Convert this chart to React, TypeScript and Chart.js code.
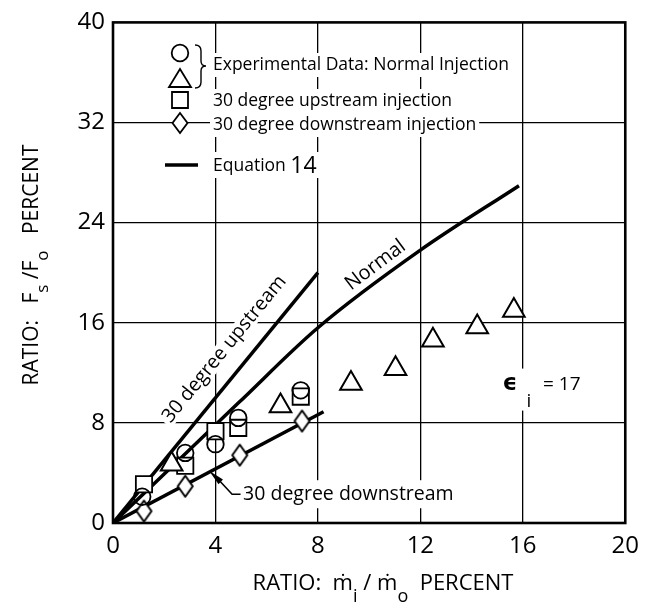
import React, { useEffect, useRef } from "react";
import { Chart, registerables } from "chart.js";

Chart.register(...registerables);

const FONT = '"Open Sans", "DejaVu Sans", sans-serif';

// Axis ticks
const xTicks = [0, 4, 8, 12, 16, 20];
const yTicks = [0, 8, 16, 24, 32, 40];

// Experimental data: normal injection (circles)
const circleX = [1.14, 2.82, 4.0, 4.89, 7.33];
const circleY = [2.1, 5.6, 6.3, 8.4, 10.6];
// Experimental data: normal injection (triangles)
const triangleX = [2.29, 6.54, 9.29, 11.03, 12.49, 14.22, 15.65];
const triangleY = [4.7, 9.34, 11.14, 12.33, 14.6, 15.66, 16.97];
// 30 degree upstream injection (squares)
const squareX = [1.21, 2.82, 4.0, 4.89, 7.33];
const squareY = [3.1, 4.57, 7.33, 7.6, 10.1];
// 30 degree downstream injection (diamonds)
const diamondX = [1.21, 2.82, 4.95, 7.38];
const diamondY = [0.95, 2.94, 5.42, 8.15];

// Equation 14 curves
const upstreamLineX = [0, 8.0];
const upstreamLineY = [0, 20.0];
const normalLineX = [0, 4.9, 8.0, 12.0, 15.85];
const normalLineY = [0, 9.6, 15.6, 21.8, 26.95];
const downstreamLineX = [0, 8.22];
const downstreamLineY = [0, 8.89];

function pts(xs: number[], ys: number[]) {
  return xs.map((x, i) => ({ x, y: ys[i] }));
}

function makeDiamond(w: number, h: number, lw: number): HTMLCanvasElement {
  const c = document.createElement("canvas");
  c.width = Math.ceil(w + lw * 2);
  c.height = Math.ceil(h + lw * 2);
  const g = c.getContext("2d")!;
  const cx = c.width / 2;
  const cy = c.height / 2;
  g.beginPath();
  g.moveTo(cx, cy - h / 2);
  g.lineTo(cx + w / 2, cy);
  g.lineTo(cx, cy + h / 2);
  g.lineTo(cx - w / 2, cy);
  g.closePath();
  g.fillStyle = "#fff";
  g.fill();
  g.lineWidth = lw;
  g.strokeStyle = "#000";
  g.lineJoin = "round";
  g.stroke();
  return c;
}

type Seg = { t: string; sub?: boolean; size?: number };

function drawSegs(
  ctx: CanvasRenderingContext2D,
  segs: Seg[],
  x: number,
  y: number,
  base: number,
  subSize: number,
  subDy: number,
  align: "left" | "center"
) {
  const widths = segs.map((s) => {
    ctx.font = `${s.sub ? subSize : s.size || base}px ${FONT}`;
    return ctx.measureText(s.t).width;
  });
  const total = widths.reduce((a, b) => a + b, 0);
  let cx = align === "center" ? x - total / 2 : x;
  ctx.textAlign = "left";
  ctx.textBaseline = "alphabetic";
  segs.forEach((s, i) => {
    ctx.font = `${s.sub ? subSize : s.size || base}px ${FONT}`;
    ctx.fillText(s.t, cx, y + (s.sub ? subDy : 0));
    cx += widths[i];
  });
  return total;
}

function boxText(
  ctx: CanvasRenderingContext2D,
  text: string,
  x: number,
  y: number,
  size: number,
  align: "left" | "center",
  boxH: number
) {
  ctx.font = `${size}px ${FONT}`;
  const w = ctx.measureText(text).width;
  const left = align === "center" ? x - w / 2 : x;
  ctx.fillStyle = "#fff";
  ctx.fillRect(left - 3, y - boxH / 2, w + 6, boxH);
  ctx.fillStyle = "#000";
  ctx.textAlign = "left";
  ctx.textBaseline = "middle";
  ctx.fillText(text, left, y);
  return w;
}

export default function App() {
  const ref = useRef<HTMLCanvasElement>(null);

  useEffect(() => {
    const canvas = ref.current!;
    const diamond = makeDiamond(15, 21, 2);

    const decor = {
      id: "decor",
      beforeDatasetsDraw(chart: any) {
        const { ctx, scales } = chart;
        const x = scales.x;
        const y = scales.y;
        const px = (v: number) => x.getPixelForValue(v);
        const py = (v: number) => y.getPixelForValue(v);
        ctx.save();

        // "30 degree upstream" label along the upstream curve
        const a1 = Math.atan2(
          py(upstreamLineY[1]) - py(upstreamLineY[0]),
          px(upstreamLineX[1]) - px(upstreamLineX[0])
        );
        ctx.save();
        ctx.translate(px(4.35), py(13.9));
        ctx.rotate(a1);
        boxText(ctx, "30 degree upstream", 0, 0, 19.5, "center", 18);
        ctx.restore();

        // "Normal" label along the normal curve
        const a2 = Math.atan2(py(21.8) - py(15.6), px(12.0) - px(8.0));
        ctx.save();
        ctx.translate(px(10.25), py(20.6));
        ctx.rotate(a2);
        boxText(ctx, "Normal", 0, 0, 20, "center", 18);
        ctx.restore();

        // "30 degree downstream" with leader arrow
        boxText(ctx, "30 degree downstream", px(5.08), py(2.3), 19.5, "left", 28);
        const tipX = px(3.75), tipY = py(4.18);
        const baseX = px(4.15), baseY = py(3.4);
        const elbX = px(4.65), elbY = py(2.3);
        const endX = px(4.98), endY = py(2.3);
        ctx.strokeStyle = "#000";
        ctx.lineWidth = 1.6;
        ctx.beginPath();
        ctx.moveTo(baseX, baseY);
        ctx.lineTo(elbX, elbY);
        ctx.lineTo(endX, endY);
        ctx.stroke();
        const ang = Math.atan2(tipY - baseY, tipX - baseX);
        const len = Math.hypot(tipX - baseX, tipY - baseY);
        ctx.save();
        ctx.translate(tipX, tipY);
        ctx.rotate(ang);
        ctx.beginPath();
        ctx.moveTo(0, 0);
        ctx.lineTo(-len - 2, -3.2);
        ctx.lineTo(-len - 2, 3.2);
        ctx.closePath();
        ctx.fillStyle = "#000";
        ctx.fill();
        ctx.restore();

        // epsilon_i = 17
        const ex = px(15.5), ey = py(11.14);
        ctx.fillStyle = "#fff";
        ctx.fillRect(ex - 11, ey - 15, 96, 42);
        ctx.fillStyle = "#000";
        ctx.textAlign = "center";
        ctx.textBaseline = "middle";
        ctx.font = `bold 23px ${FONT}`;
        ctx.fillText("\u03F5", ex, ey);
        ctx.font = `19px ${FONT}`;
        ctx.fillText("i", ex + 19, ey + 18);
        ctx.textAlign = "left";
        ctx.fillText("= 17", ex + 33, ey + 1);

        ctx.restore();
      },
      afterDraw(chart: any) {
        const { ctx, chartArea } = chart;
        const { left, right, top, bottom } = chartArea;
        ctx.save();
        // frame
        ctx.strokeStyle = "#000";
        ctx.lineWidth = 2.6;
        ctx.strokeRect(left, top, right - left, bottom - top);

        // legend
        ctx.lineWidth = 1.8;
        ctx.strokeStyle = "#000";
        ctx.fillStyle = "#fff";
        // circle
        ctx.beginPath();
        ctx.arc(180, 53, 8.3, 0, Math.PI * 2);
        ctx.fill();
        ctx.stroke();
        // triangle
        ctx.beginPath();
        ctx.moveTo(180, 69);
        ctx.lineTo(191, 87);
        ctx.lineTo(169, 87);
        ctx.closePath();
        ctx.fill();
        ctx.stroke();
        // square
        ctx.beginPath();
        ctx.rect(172, 92, 16, 16);
        ctx.fill();
        ctx.stroke();
        // diamond
        ctx.beginPath();
        ctx.moveTo(180, 113);
        ctx.lineTo(187.5, 123);
        ctx.lineTo(180, 133);
        ctx.lineTo(172.5, 123);
        ctx.closePath();
        ctx.fill();
        ctx.stroke();
        // brace
        ctx.lineWidth = 1.4;
        ctx.beginPath();
        ctx.moveTo(195, 45);
        ctx.quadraticCurveTo(201, 45, 201, 51);
        ctx.lineTo(201, 61);
        ctx.quadraticCurveTo(201, 66, 206, 66);
        ctx.quadraticCurveTo(201, 66, 201, 71);
        ctx.lineTo(201, 82);
        ctx.quadraticCurveTo(201, 88, 195, 88);
        ctx.stroke();
        // equation line
        ctx.lineWidth = 3.6;
        ctx.beginPath();
        ctx.moveTo(165, 165);
        ctx.lineTo(198, 165);
        ctx.stroke();

        boxText(ctx, "Experimental Data: Normal Injection", 213, 65, 17.5, "left", 24);
        boxText(ctx, "30 degree upstream injection", 213, 101, 17.5, "left", 24);
        boxText(ctx, "30 degree downstream injection", 213, 125, 17.5, "left", 24);
        ctx.font = `17.5px ${FONT}`;
        const eqW = ctx.measureText("Equation ").width;
        ctx.font = `23px ${FONT}`;
        const n14 = ctx.measureText("14").width;
        ctx.fillStyle = "#fff";
        ctx.fillRect(210, 152, eqW + n14 + 6, 26);
        ctx.fillStyle = "#000";
        ctx.textBaseline = "alphabetic";
        ctx.textAlign = "left";
        ctx.font = `17.5px ${FONT}`;
        ctx.fillText("Equation ", 213, 171);
        ctx.font = `23px ${FONT}`;
        ctx.fillText("14", 213 + eqW, 173);

        // axis titles
        ctx.fillStyle = "#000";
        ctx.save();
        ctx.translate(38, 265);
        ctx.rotate(-Math.PI / 2);
        drawSegs(
          ctx,
          [
            { t: "RATIO:   F" },
            { t: "s", sub: true },
            { t: " /F" },
            { t: "o", sub: true },
            { t: "   PERCENT" },
          ],
          0,
          0,
          21,
          17,
          10,
          "center"
        );
        ctx.restore();
        drawSegs(
          ctx,
          [
            { t: "RATIO:  \u1E41" },
            { t: "i", sub: true },
            { t: " / \u1E41" },
            { t: "o", sub: true },
            { t: "  PERCENT" },
          ],
          383,
          590,
          22,
          18,
          12,
          "center"
        );
        ctx.restore();
      },
    };

    const chart = new Chart(canvas, {
      type: "scatter",
      data: {
        datasets: [
          {
            label: "Normal injection (circles)",
            data: pts(circleX, circleY),
            pointStyle: "circle",
            pointRadius: 8.3,
            borderWidth: 1.8,
            borderColor: "#000",
            backgroundColor: "rgba(255,255,255,0)",
            order: 1,
          },
          {
            label: "Normal injection (triangles)",
            data: pts(triangleX, triangleY),
            pointStyle: "triangle",
            pointRadius: 12.5,
            borderWidth: 2,
            borderColor: "#000",
            backgroundColor: "#fff",
            order: 2,
          },
          {
            label: "30 degree upstream injection",
            data: pts(squareX, squareY),
            pointStyle: "rect",
            pointRadius: 11.5,
            borderWidth: 1.8,
            borderColor: "#000",
            backgroundColor: "#fff",
            order: 3,
          },
          {
            label: "30 degree downstream injection",
            data: pts(diamondX, diamondY),
            pointStyle: diamond as any,
            pointRadius: 10,
            borderColor: "#000",
            backgroundColor: "#fff",
            order: 2,
          },
          {
            label: "Equation 14: 30 degree upstream",
            data: pts(upstreamLineX, upstreamLineY),
            showLine: true,
            pointRadius: 0,
            borderWidth: 3.5,
            borderColor: "#000",
            order: 10,
          },
          {
            label: "Equation 14: Normal",
            data: pts(normalLineX, normalLineY),
            showLine: true,
            pointRadius: 0,
            borderWidth: 3.5,
            borderColor: "#000",
            cubicInterpolationMode: "monotone",
            order: 10,
          },
          {
            label: "Equation 14: 30 degree downstream",
            data: pts(downstreamLineX, downstreamLineY),
            showLine: true,
            pointRadius: 0,
            borderWidth: 3.5,
            borderColor: "#000",
            order: 10,
          },
        ],
      },
      options: {
        responsive: false,
        animation: false,
        devicePixelRatio: 1,
        layout: { padding: { top: 12, right: 12, left: 0, bottom: 0 } },
        plugins: {
          legend: { display: false },
          tooltip: { enabled: false },
        },
        scales: {
          x: {
            type: "linear",
            min: 0,
            max: 20,
            afterBuildTicks: (s: any) => {
              s.ticks = xTicks.map((v) => ({ value: v }));
            },
            afterFit: (s: any) => {
              s.height = 92;
            },
            border: { display: false },
            grid: {
              color: (c: any) =>
                c.tick && (c.tick.value === 0 || c.tick.value === 20)
                  ? "rgba(0,0,0,0)"
                  : "#000",
              lineWidth: 1.3,
              drawTicks: false,
            },
            ticks: {
              color: "#000",
              font: { family: FONT, size: 24 },
              padding: 9,
              maxRotation: 0,
              autoSkip: false,
            },
          },
          y: {
            type: "linear",
            min: 0,
            max: 40,
            afterBuildTicks: (s: any) => {
              s.ticks = yTicks.map((v) => ({ value: v }));
            },
            afterFit: (s: any) => {
              s.width = 113;
            },
            border: { display: false },
            grid: {
              color: (c: any) =>
                c.tick && (c.tick.value === 0 || c.tick.value === 40)
                  ? "rgba(0,0,0,0)"
                  : "#000",
              lineWidth: 1.3,
              drawTicks: false,
            },
            ticks: {
              color: "#000",
              font: { family: FONT, size: 24 },
              padding: 8,
              autoSkip: false,
            },
          },
        },
      },
      plugins: [decor],
    } as any);

    return () => chart.destroy();
  }, []);

  return (
    <div style={{ position: "absolute", left: 0, top: 0 }}>
      <canvas
        ref={ref}
        width={648}
        height={615}
        style={{ display: "block", width: 648, height: 615 }}
      />
    </div>
  );
}
